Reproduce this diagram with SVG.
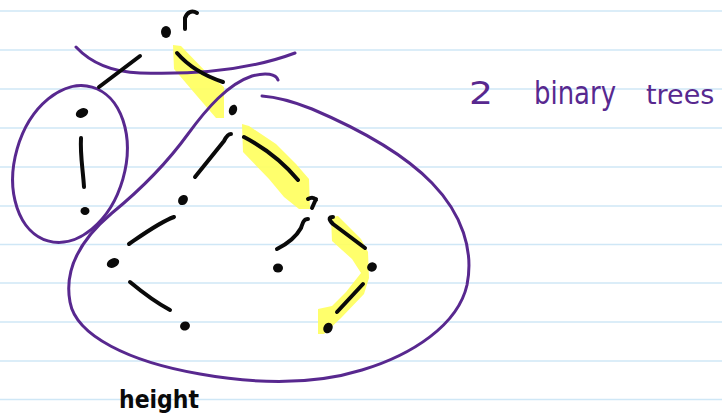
<svg xmlns="http://www.w3.org/2000/svg" width="722" height="418" viewBox="0 0 722 418">
<style>
.rule{stroke:#cfe7f6;stroke-width:1.5}
.hl{fill:#ffff5c;opacity:0.9}
.pur{fill:none;stroke:#58288f;stroke-width:3;stroke-linecap:round;stroke-linejoin:round}
.ink{fill:none;stroke:#0a0a0a;stroke-width:4;stroke-linecap:round;stroke-linejoin:round}
.dot{fill:#0a0a0a}
.hand{font-family:"DejaVu Sans",sans-serif}
</style>
<rect width="722" height="418" fill="#ffffff"/>
<g id="ruled">
<line class="rule" x1="0" y1="11" x2="722" y2="11"/>
<line class="rule" x1="0" y1="50" x2="722" y2="50"/>
<line class="rule" x1="0" y1="89" x2="722" y2="89"/>
<line class="rule" x1="0" y1="128" x2="722" y2="128"/>
<line class="rule" x1="0" y1="167" x2="722" y2="167"/>
<line class="rule" x1="0" y1="206" x2="722" y2="206"/>
<line class="rule" x1="0" y1="244.5" x2="722" y2="244.5"/>
<line class="rule" x1="0" y1="283" x2="722" y2="283"/>
<line class="rule" x1="0" y1="322" x2="722" y2="322"/>
<line class="rule" x1="0" y1="361" x2="722" y2="361"/>
<line class="rule" x1="0" y1="399.5" x2="722" y2="399.5"/>
</g>
<g id="highlights">
<polygon class="hl" points="173,45 181,46 208,74 224,87 224,118 216,118 197,96 174,69"/>
<polygon class="hl" points="242,124 249,126 276,144 296,164 309,179 310,209 299,209 284,197 269,179 243,152"/>
<polygon class="hl" points="331,217 338,216 361,239 368,252 369,278 364,294 341,318 324,334 318,334 318,309 332,306 346,292 361,273 352,259 332,241"/>
</g>
<g id="groupings">
<path class="pur" d="M76,47 C90,62 110,72 140,73 C200,75 255,68 295,53"/>
<ellipse class="pur" cx="70" cy="164" rx="55" ry="80" transform="rotate(16 70 164)"/>
<path class="pur" d="M278,80 C276,74 266,72 252,76 C228,84 207,108 188,134 C167,163 145,186 112,213 C80,240 64,270 70,302 C76,336 130,362 200,374 C250,383 310,386 362,370 C412,355 458,325 467,285 C474,250 462,214 432,183 C402,152 352,126 312,109 C292,101 276,97 262,96"/>
</g>
<g id="connectors">
<path class="ink" d="M140,56 L99,87"/>
<path class="ink" d="M177,53 C190,68 205,76 223,82"/>
<path class="ink" d="M231,134 C228,134 226,137 224,141 L195,177"/>
<path class="ink" d="M81,138 C80,155 83,170 84,187"/>
<path class="ink" d="M244,137 C265,148 283,162 298,180"/>
<path class="ink" d="M174,217 C160,222 145,233 129,244"/>
<path class="ink" d="M130,282 C142,292 155,302 170,310"/>
<path class="ink" d="M308,219 C304,219 303,222 301,228 C296,237 287,244 277,249"/>
<path class="ink" d="M333,217 C328,217 329,220 333,224 L365,248"/>
<path class="ink" d="M363,284 L337,312"/>
</g>
<g id="root"><ellipse class="dot" cx="166" cy="32" rx="5" ry="6"/><path class="ink" d="M185,29 L185,18 C187,12 192,10 197,13"/></g>
<g id="n-left-top"><ellipse class="dot" cx="82" cy="113" rx="6.5" ry="4.5" transform="rotate(-25 82 113)"/></g>
<g id="n-left-bottom"><ellipse class="dot" cx="85" cy="211" rx="4.5" ry="4"/></g>
<g id="n-a"><ellipse class="dot" cx="233" cy="110" rx="4" ry="5.5" transform="rotate(20 233 110)"/></g>
<g id="n-b"><ellipse class="dot" cx="183" cy="200" rx="4.5" ry="5.5" transform="rotate(40 183 200)"/></g>
<g id="n-c"><path class="ink" d="M308,199 Q313,196 316,200 M316,199 L312,208" stroke-width="3.5"/></g>
<g id="n-d"><ellipse class="dot" cx="113" cy="263" rx="6.5" ry="4.5" transform="rotate(-25 113 263)"/></g>
<g id="n-e"><ellipse class="dot" cx="185" cy="326" rx="5" ry="4.5" transform="rotate(-20 185 326)"/></g>
<g id="n-f"><ellipse class="dot" cx="278" cy="268" rx="5" ry="4.5"/></g>
<g id="n-g"><ellipse class="dot" cx="372" cy="267" rx="5" ry="4.5" transform="rotate(-30 372 267)"/></g>
<g id="n-h"><ellipse class="dot" cx="328" cy="328" rx="4.5" ry="5.5" transform="rotate(30 328 328)"/></g>
<g id="labels">
<text class="hand" y="104" font-size="32" fill="#58288f"><tspan x="469" textLength="24" lengthAdjust="spacingAndGlyphs">2</tspan><tspan x="534" textLength="82" lengthAdjust="spacingAndGlyphs">binary</tspan></text>
<text class="hand" x="646" y="104" font-size="27" fill="#58288f">trees</text>
<text class="hand" x="119" y="408" font-size="25" font-weight="bold" fill="#0a0a0a" textLength="80" lengthAdjust="spacingAndGlyphs">height</text>
</g>
</svg>
